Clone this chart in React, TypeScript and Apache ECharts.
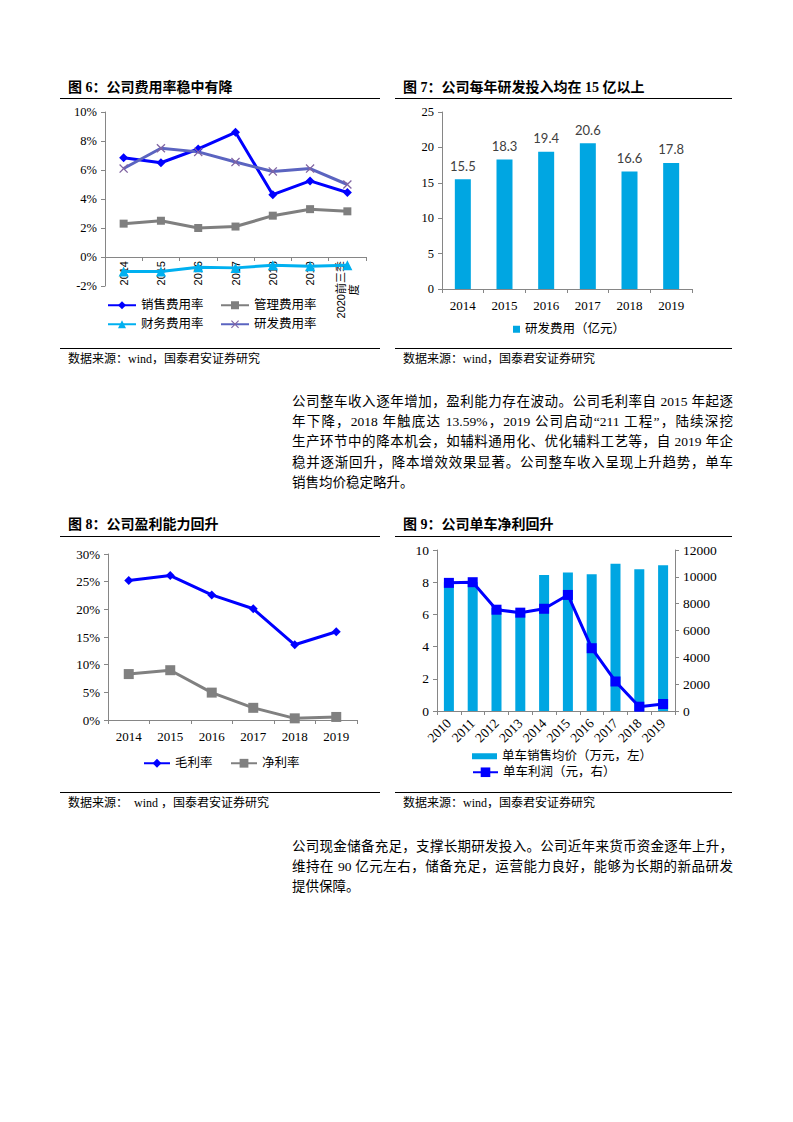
import { useEffect, useRef } from 'react';
import * as echarts from 'echarts';

const SERIF = "'Liberation Serif', 'Noto Sans CJK SC', serif";
const SANS = "Lato, 'Noto Sans CJK SC', sans-serif";
const ARIAL = "'Liberation Sans', 'Noto Sans CJK SC', sans-serif";

// 图6 公司费用率（%）
const costYears = ['2014', '2015', '2016', '2017', '2018', '2019', '2020前三季度'];
const salesRate = [6.85, 6.5, 7.45, 8.6, 4.3, 5.25, 4.45];
const adminRate = [2.3, 2.5, 2.0, 2.1, 2.85, 3.3, 3.15];
const financeRate = [-1.0, -1.0, -0.7, -0.75, -0.57, -0.64, -0.57];
const rdRate = [6.1, 7.5, 7.25, 6.55, 5.9, 6.1, 5.0];

// 图7 研发费用（亿元）
const rdYears = ['2014', '2015', '2016', '2017', '2018', '2019'];
const rdSpend = [15.5, 18.3, 19.4, 20.6, 16.6, 17.8];

// 图8 毛利率 / 净利率（%）
const marginYears = ['2014', '2015', '2016', '2017', '2018', '2019'];
const grossMargin = [25.2, 26.1, 22.6, 20.1, 13.59, 15.95];
const netMargin = [8.3, 9.0, 4.95, 2.2, 0.3, 0.55];

// 图9 单车均价（万元）/ 单车利润（元）
const unitYears = ['2010', '2011', '2012', '2013', '2014', '2015', '2016', '2017', '2018', '2019'];
const unitPrice = [8.0, 8.0, 6.4, 6.1, 8.45, 8.6, 8.5, 9.15, 8.8, 9.05];
const unitProfit = [9550, 9600, 7550, 7330, 7620, 8650, 4680, 2200, 320, 520];

const para1 = [
  '公司整车收入逐年增加，盈利能力存在波动。公司毛利率自 2015 年起逐',
  '年下降，2018 年触底达 13.59%，2019 公司启动“211 工程”，陆续深挖',
  '生产环节中的降本机会，如辅料通用化、优化辅料工艺等，自 2019 年企',
  '稳并逐渐回升，降本增效效果显著。公司整车收入呈现上升趋势，单车',
  '销售均价稳定略升。',
];
const para2 = [
  '公司现金储备充足，支撑长期研发投入。公司近年来货币资金逐年上升，',
  '维持在 90 亿元左右，储备充足，运营能力良好，能够为长期的新品研发',
  '提供保障。',
];

const AXIS_GREY = '#868686';
const BAR_BLUE = '#00A6E2';
const X_MARK = 'path://M0 1L1 0L5 4L9 0L10 1L6 5L10 9L9 10L5 6L1 10L0 9L4 5Z';

const catAxis = (gridIndex: number, data: string[], fontSize: number, extra: any = {}) => ({
  type: 'category',
  gridIndex,
  data,
  axisLine: { lineStyle: { color: AXIS_GREY } },
  axisTick: { show: true, length: 4, lineStyle: { color: AXIS_GREY } },
  axisLabel: { interval: 0, color: '#000', fontFamily: SERIF, fontSize, ...extra },
});

const valAxis = (gridIndex: number, min: number, max: number, interval: number, fontSize: number, fmt?: any, position?: string) => ({
  type: 'value',
  gridIndex,
  min,
  max,
  interval,
  position,
  axisLine: { show: true, lineStyle: { color: AXIS_GREY } },
  axisTick: { show: true, length: 4, lineStyle: { color: AXIS_GREY } },
  splitLine: { show: false },
  axisLabel: { color: '#000', fontFamily: SERIF, fontSize, formatter: fmt ?? ((v: number) => String(v)) },
});

const legendText = { fontFamily: SERIF, fontSize: 12.5, color: '#000' };
const oneLegend = (name: string, left: number, top: number, itemWidth: number, itemHeight: number, icon?: string) => ({
  data: [name],
  left,
  top,
  itemWidth,
  itemHeight,
  icon,
  padding: 0,
  textStyle: legendText,
  selectedMode: false,
});

// long last category wraps its final character onto a second, centred line
const costLabel = (v: string) => (v.length > 4 ? `{a|${v.slice(0, -1)}}\n{c|${v.slice(-1)}}` : v);

const option: any = {
  animation: false,
  grid: [
    { left: 105, top: 112, width: 261, height: 174 },
    { left: 442, top: 112, width: 250, height: 177 },
    { left: 108, top: 554, width: 249, height: 166 },
    { left: 437, top: 550, width: 238, height: 161 },
  ],
  xAxis: [
    // axis line sits on 0%; labels are pulled back up from the grid bottom to just under it
    catAxis(0, costYears, 11, {
      rotate: 90,
      margin: -25,
      fontFamily: ARIAL,
      formatter: costLabel,
      rich: {
        a: { fontFamily: ARIAL, fontSize: 11, color: '#000', lineHeight: 13 },
        c: { fontFamily: ARIAL, fontSize: 11, color: '#000', lineHeight: 13, align: 'center' },
      },
    }),
    catAxis(1, rdYears, 13, { margin: 10 }),
    catAxis(2, marginYears, 13, { margin: 10 }),
    catAxis(3, unitYears, 13.5, { rotate: 45, margin: 10 }),
  ],
  yAxis: [
    valAxis(0, -2, 10, 2, 12.5, '{value}%'),
    valAxis(1, 0, 25, 5, 12.5),
    valAxis(2, 0, 30, 5, 13, '{value}%'),
    valAxis(3, 0, 10, 2, 13.5),
    valAxis(3, 0, 12000, 2000, 13.5, undefined, 'right'),
  ],
  legend: [
    oneLegend('销售费用率', 107, 299, 28, 10),
    oneLegend('管理费用率', 220, 299, 28, 10),
    oneLegend('财务费用率', 107, 318, 28, 10),
    oneLegend('研发费用率', 220, 318, 28, 10),
    oneLegend('研发费用（亿元）', 513, 323, 7, 7, 'rect'),
    oneLegend('毛利率', 143, 757, 26, 11),
    oneLegend('净利率', 230, 757, 26, 11),
    oneLegend('单车销售均价（万元，左）', 472, 750, 25, 6, 'rect'),
    oneLegend('单车利润（元，右）', 472, 766, 25, 12),
  ],
  series: [
    {
      name: '销售费用率', type: 'line', xAxisIndex: 0, yAxisIndex: 0, data: salesRate,
      symbol: 'diamond', symbolSize: 9, color: '#0000FF', lineStyle: { width: 3 },
    },
    {
      name: '管理费用率', type: 'line', xAxisIndex: 0, yAxisIndex: 0, data: adminRate,
      symbol: 'rect', symbolSize: 8, color: '#7F7F7F', lineStyle: { width: 3 },
    },
    {
      name: '财务费用率', type: 'line', xAxisIndex: 0, yAxisIndex: 0, data: financeRate,
      symbol: 'triangle', symbolSize: 10, color: '#00B0F0', lineStyle: { width: 3 },
    },
    {
      name: '研发费用率', type: 'line', xAxisIndex: 0, yAxisIndex: 0, data: rdRate,
      symbol: X_MARK, symbolSize: 9, itemStyle: { color: '#8064A2' }, lineStyle: { width: 3, color: '#5B64C0' },
    },
    {
      name: '研发费用（亿元）', type: 'bar', xAxisIndex: 1, yAxisIndex: 1, data: rdSpend,
      barWidth: 16, itemStyle: { color: BAR_BLUE },
      label: { show: true, position: 'top', distance: 7, color: '#404040', fontFamily: SANS, fontSize: 13 },
    },
    {
      name: '毛利率', type: 'line', xAxisIndex: 2, yAxisIndex: 2, data: grossMargin,
      symbol: 'diamond', symbolSize: 9, color: '#0000FF', lineStyle: { width: 3 },
    },
    {
      name: '净利率', type: 'line', xAxisIndex: 2, yAxisIndex: 2, data: netMargin,
      symbol: 'rect', symbolSize: 10, color: '#808080', lineStyle: { width: 3 },
    },
    {
      name: '单车销售均价（万元，左）', type: 'bar', xAxisIndex: 3, yAxisIndex: 3, data: unitPrice,
      barWidth: 10, itemStyle: { color: BAR_BLUE },
    },
    {
      name: '单车利润（元，右）', type: 'line', xAxisIndex: 3, yAxisIndex: 4, data: unitProfit,
      symbol: 'rect', symbolSize: 10, color: '#0000FF', lineStyle: { width: 3 },
    },
  ],
};

const titles = [
  { text: '图 6：公司费用率稳中有降', left: 68, top: 88 },
  { text: '图 7：公司每年研发投入均在 15 亿以上', left: 403, top: 88 },
  { text: '图 8：公司盈利能力回升', left: 68, top: 525 },
  { text: '图 9：公司单车净利回升', left: 403, top: 525 },
];
const sources = [
  { text: '数据来源：wind，国泰君安证券研究', left: 68, top: 359 },
  { text: '数据来源：wind，国泰君安证券研究', left: 403, top: 359 },
  { text: '数据来源：  wind ，国泰君安证券研究', left: 68, top: 803 },
  { text: '数据来源：wind，国泰君安证券研究', left: 403, top: 803 },
];
const rules = [
  { left: 60, top: 98, width: 320 },
  { left: 395, top: 98, width: 337 },
  { left: 60, top: 348, width: 320 },
  { left: 395, top: 348, width: 337 },
  { left: 60, top: 536, width: 320 },
  { left: 395, top: 536, width: 337 },
  { left: 60, top: 792, width: 320 },
  { left: 395, top: 792, width: 337 },
];

function Paragraph({ lines, top }: { lines: string[]; top: number }) {
  const lh = 20.4;
  return (
    <>
      {lines.map((l, i) => (
        <div
          key={i}
          style={{
            position: 'absolute',
            left: 292,
            top: top + i * lh,
            width: 441,
            height: lh,
            lineHeight: `${lh}px`,
            fontSize: 13.5,
            fontFamily: SERIF,
            color: '#000',
            whiteSpace: 'nowrap',
            textAlign: 'justify',
            textAlignLast: i === lines.length - 1 ? 'left' : 'justify',
          }}
        >
          {l}
        </div>
      ))}
    </>
  );
}

export default function App() {
  const chartRef = useRef<HTMLDivElement>(null);

  useEffect(() => {
    if (!chartRef.current) return;
    const chart = echarts.init(chartRef.current, undefined, { renderer: 'svg' });
    chart.setOption(option);
    return () => chart.dispose();
  }, []);

  return (
    <div style={{ position: 'absolute', left: 0, top: 0, width: 793, height: 1122, overflow: 'hidden', background: '#fff' }}>
      <div ref={chartRef} style={{ position: 'absolute', left: 0, top: 0, width: 793, height: 1122 }} />
      {titles.map((t, i) => (
        <div
          key={'t' + i}
          style={{
            position: 'absolute', left: t.left, top: t.top - 10, height: 20, lineHeight: '20px',
            fontSize: 14, fontWeight: 'bold', fontFamily: SERIF, color: '#000', whiteSpace: 'nowrap',
          }}
        >
          {t.text}
        </div>
      ))}
      {sources.map((s, i) => (
        <div
          key={'s' + i}
          style={{
            position: 'absolute', left: s.left, top: s.top - 8, height: 16, lineHeight: '16px',
            fontSize: 12, fontFamily: SERIF, color: '#000', whiteSpace: 'pre',
          }}
        >
          {s.text}
        </div>
      ))}
      {rules.map((r, i) => (
        <div key={'r' + i} style={{ position: 'absolute', left: r.left, top: r.top, width: r.width, height: 1, background: '#000' }} />
      ))}
      <Paragraph lines={para1} top={391.5} />
      <Paragraph lines={para2} top={836.5} />
    </div>
  );
}
